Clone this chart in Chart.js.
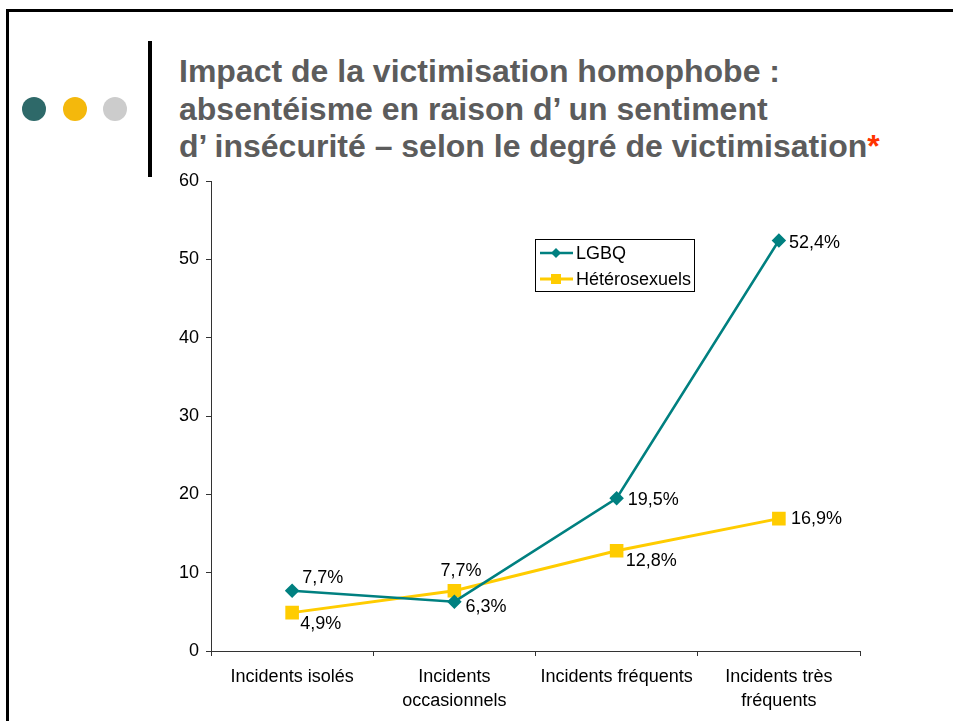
<!DOCTYPE html>
<html lang="fr">
<head>
<meta charset="utf-8">
<title>Impact de la victimisation homophobe</title>
<script src="https://cdn.jsdelivr.net/npm/chart.js@4/dist/chart.umd.min.js"></script>
<style>
  html, body { margin: 0; padding: 0; background: #fff; }
  body { width: 953px; height: 721px; position: relative; overflow: hidden; font-family: "Liberation Sans", Arial, sans-serif; }
  .frame { position: absolute; left: 6px; top: 9px; width: 960px; height: 730px; border-top: 3px solid #000; border-left: 3px solid #000; }
  .dot { position: absolute; top: 97px; width: 24px; height: 24px; border-radius: 50%; }
  .bar { position: absolute; left: 148px; top: 41px; width: 4px; height: 136px; background: #000; }
  .title { position: absolute; left: 179px; top: 53px; margin: 0; font-size: 32px; line-height: 37.5px; font-weight: bold; color: #5c5c5c; white-space: nowrap; }
  .title .star { color: #ff3300; }
  #chart { position: absolute; left: 0; top: 0; }
</style>
</head>
<body>
<div class="frame"></div>
<div class="dot" style="left:22px;background:#2e6969"></div>
<div class="dot" style="left:63px;background:#f4b80c"></div>
<div class="dot" style="left:103px;background:#cccccc"></div>
<div class="bar"></div>
<h1 class="title">Impact de la victimisation homophobe :<br>absentéisme en raison d’ un sentiment<br>d’ insécurité – selon le degré de victimisation<span class="star">*</span></h1>
<canvas id="chart" width="953" height="721"></canvas>
<script>
// Data
const categories = [
  ['Incidents isolés'],
  ['Incidents', 'occasionnels'],
  ['Incidents fréquents'],
  ['Incidents très', 'fréquents']
];
const lgbqValues = [7.7, 6.3, 19.5, 52.4];
const heteroValues = [4.9, 7.7, 12.8, 16.9];
const yTicks = [0, 10, 20, 30, 40, 50, 60];

// label offsets from each point (px)
const lgbqLabelOffsets = [[10, -13], [11, 5], [11, 2], [10, 2]];
const heteroLabelOffsets = [[8, 11], [-14, -20], [9, 10], [12, 0]];

const FONT = '"Liberation Sans", Arial, sans-serif';
const TEAL = '#008080';
const YELLOW = '#ffcc00';

function fmt(v) {
  return v.toFixed(1).replace('.', ',') + '%';
}

const pointLabels = {
  id: 'pointLabels',
  afterDatasetsDraw(chart) {
    const ctx = chart.ctx;
    ctx.save();
    ctx.font = '18px ' + FONT;
    ctx.fillStyle = '#000';
    ctx.textAlign = 'left';
    ctx.textBaseline = 'middle';
    chart.data.datasets.forEach((ds, i) => {
      const meta = chart.getDatasetMeta(i);
      meta.data.forEach((pt, j) => {
        const off = ds.labelOffsets[j];
        ctx.fillText(fmt(ds.data[j]), pt.x + off[0], pt.y + off[1]);
      });
    });
    ctx.restore();
  }
};

// boxed legend inside the plot, as on the slide
const boxLegend = {
  id: 'boxLegend',
  afterDraw(chart) {
    const ctx = chart.ctx;
    const x = 535, y = 239, w = 159, h = 52;
    ctx.save();
    ctx.fillStyle = '#fff';
    ctx.fillRect(x, y, w, h);
    ctx.strokeStyle = '#000';
    ctx.lineWidth = 1;
    ctx.strokeRect(x + 0.5, y + 0.5, w, h);
    ctx.font = '18px ' + FONT;
    ctx.textBaseline = 'middle';
    chart.data.datasets.forEach((ds, i) => {
      const ly = y + 14 + i * 26;
      ctx.strokeStyle = ds.borderColor;
      ctx.lineWidth = ds.borderWidth;
      ctx.beginPath();
      ctx.moveTo(x + 5, ly);
      ctx.lineTo(x + 38, ly);
      ctx.stroke();
      ctx.fillStyle = ds.borderColor;
      const cx = x + 21;
      if (ds.pointStyle === 'rectRot') {
        ctx.beginPath();
        ctx.moveTo(cx, ly - 5);
        ctx.lineTo(cx + 5, ly);
        ctx.lineTo(cx, ly + 5);
        ctx.lineTo(cx - 5, ly);
        ctx.closePath();
        ctx.fill();
      } else {
        ctx.fillRect(cx - 5, ly - 5, 10, 10);
      }
      ctx.fillStyle = '#000';
      ctx.fillText(ds.label, x + 41, ly + 1);
    });
    ctx.restore();
  }
};

new Chart(document.getElementById('chart'), {
  type: 'line',
  data: {
    labels: categories,
    datasets: [
      {
        label: 'LGBQ',
        data: lgbqValues,
        labelOffsets: lgbqLabelOffsets,
        borderColor: TEAL,
        backgroundColor: TEAL,
        borderWidth: 2.5,
        pointStyle: 'rectRot',
        pointRadius: 5.5,
        pointHoverRadius: 5.5,
        tension: 0
      },
      {
        label: 'Hétérosexuels',
        data: heteroValues,
        labelOffsets: heteroLabelOffsets,
        borderColor: YELLOW,
        backgroundColor: YELLOW,
        borderWidth: 3,
        pointStyle: 'rect',
        pointRadius: 7.5,
        pointHoverRadius: 7.5,
        tension: 0
      }
    ]
  },
  options: {
    responsive: false,
    animation: false,
    events: [],
    layout: { padding: { left: 161, top: 181, right: 93, bottom: 0 } },
    plugins: {
      legend: { display: false },
      tooltip: { enabled: false }
    },
    scales: {
      x: {
        offset: true,
        afterFit: s => { s.height = 70; },
        grid: { offset: true, drawOnChartArea: false, drawTicks: true, tickLength: 5, color: '#333' },
        border: { display: true, color: '#333', width: 1 },
        ticks: {
          color: '#000',
          padding: 10,
          maxRotation: 0,
          autoSkip: false,
          font: { family: FONT, size: 18, lineHeight: 1.28 }
        }
      },
      y: {
        min: yTicks[0],
        max: yTicks[yTicks.length - 1],
        afterFit: s => { s.width = 50; },
        afterBuildTicks: s => { s.ticks = yTicks.map(v => ({ value: v })); },
        grid: { drawOnChartArea: false, drawTicks: true, tickLength: 5, color: '#333' },
        border: { display: true, color: '#333', width: 1 },
        ticks: {
          color: '#000',
          padding: 7,
          font: { family: FONT, size: 18 }
        }
      }
    }
  },
  plugins: [pointLabels, boxLegend]
});
</script>
</body>
</html>
